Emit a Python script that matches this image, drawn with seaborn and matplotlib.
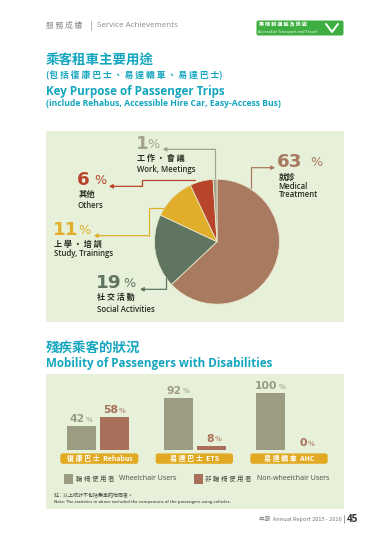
import matplotlib
matplotlib.use("Agg")
import matplotlib.pyplot as plt
from matplotlib.patches import Rectangle, FancyBboxPatch
import pandas as pd
import seaborn as sns

sns.set_theme(style="white")
CJK = ['Noto Sans CJK TC', 'DejaVu Sans']
LAT = ['Open Sans', 'Noto Sans CJK TC']
plt.rcParams['font.family'] = LAT

purposes = ["Medical", "Social", "Study", "Others", "Work"]
purpose_values = [63, 19, 11, 6, 1]
purpose_colors = ["#A87A60", "#5F7560", "#E0AE2A", "#B8452B", "#A3A38E"]

services = ["Rehabus", "ETS", "AHC"]
service_centres = [97.9, 194.7, 287.3]
wheelchair = [42, 92, 100]
non_wheelchair = [58, 8, 0]
service_labels = ["復 康 巴 士  Rehabus", "易 達 巴 士  ETS", "易 達 轎 車  AHC"]

TEAL = "#14A6BF"
PANEL = "#E7F1DA"
WC = "#9C9C82"
NWC = "#A8705A"
GOLD = "#E2AA22"
DARK = "#3A3A30"

fig = plt.figure(figsize=(3.8, 5.37), dpi=100, facecolor="white")
W, H = 380, 537

bg = fig.add_axes([0, 0, 1, 1], zorder=0)
bg.set_xlim(0, W); bg.set_ylim(H, 0); bg.axis("off")
bg.add_patch(Rectangle((45.5, 131), 298.5, 190.5, fc=PANEL, ec="none"))
bg.add_patch(Rectangle((45.5, 374), 298.5, 135, fc=PANEL, ec="none"))

# Pie
cx, cy, r = 217, 241.7, 62.5
pie_ax = fig.add_axes([(cx - r) / W, 1 - (cy + r) / H, 2 * r / W, 2 * r / H], zorder=1)
pie_ax.pie(purpose_values, colors=purpose_colors, startangle=90, counterclock=False,
           radius=1, wedgeprops=dict(edgecolor="#E7E6C8", linewidth=0.6))
pie_ax.set_xlim(-1, 1); pie_ax.set_ylim(-1, 1)

# Bars
x0, x1, ytop, ybase = 45.5, 344, 380, 450.3
bar_ax = fig.add_axes([x0 / W, 1 - ybase / H, (x1 - x0) / W, (ybase - ytop) / H], zorder=1)
df = pd.DataFrame({
    "centre": service_centres * 2,
    "share": wheelchair + non_wheelchair,
    "user": ["Wheelchair"] * 3 + ["Non-wheelchair"] * 3,
})
sns.barplot(data=df, x="centre", y="share", hue="user", native_scale=True,
            palette={"Wheelchair": WC, "Non-wheelchair": NWC},
            width=0.7127, gap=0.11, legend=False, ax=bar_ax, saturation=1, errorbar=None,
            linewidth=0, edgecolor="none")
bar_ax.set_xlim(x0, x1)
bar_ax.set_ylim(0, (ybase - ytop) / 57 * 100)
bar_ax.axis("off")
bar_ax.patch.set_alpha(0)

# Overlay
ov = fig.add_axes([0, 0, 1, 1], zorder=2)
ov.set_xlim(0, W); ov.set_ylim(H, 0); ov.axis("off"); ov.patch.set_alpha(0)


def T(x, y, s, size, color=DARK, weight="normal", ha="left", va="center", fam=None):
    ov.text(x, y, s, fontsize=size, color=color, fontweight=weight, ha=ha, va=va,
            family=fam or LAT)


def leader(zx, zy, color):
    pts = [(40 + a / 3, 125 + b / 3) for a, b in zip(zx, zy)]
    xs, ys = zip(*pts)
    ov.plot(xs[:-1], ys[:-1], color=color, lw=0.9, solid_joinstyle="miter")
    ov.annotate("", xy=pts[-1], xytext=pts[-2],
                arrowprops=dict(arrowstyle="-|>,head_length=0.18,head_width=0.1", color=color, lw=0.9,
                                shrinkA=0, shrinkB=0))


# Header
T(46, 25.5, "服 務 成 績", 5.6, "#8A8A8A", fam=CJK)
ov.plot([91, 91], [21, 30], color="#999999", lw=0.5)
T(97, 25.5, "Service Achievements", 5.8, "#8A8A8A")
ov.add_patch(FancyBboxPatch((256.5, 20.5), 87, 15, boxstyle="round,pad=0,rounding_size=2",
                            fc="#3DAE3F", ec="none"))
T(259, 25, "無 障 礙 運 輸 及 旅 遊", 3.6, "white", "bold", fam=CJK)
T(258.5, 32.2, "Accessible Transport and Travel", 2.9, "white")
ov.plot([326, 332, 338], [24, 32, 24], color="white", lw=1.4, solid_capstyle="round")

# Section 1 title
T(45.5, 61, "乘客租車主要用途", 9.7, TEAL, "bold", fam=CJK)
T(45.5, 75, "(包 括 復 康 巴 士 、 易 達 轎 車 、 易 達 巴 士)", 6.35, TEAL, "bold", fam=CJK)
T(45.5, 91, "Key Purpose of Passenger Trips", 8.4, TEAL, "bold")
T(45.5, 104, "(include Rehabus, Accessible Hire Car, Easy-Access Bus)", 6.2, TEAL, "bold")

# Leaders
leader([634, 634, 705], [190, 128, 128], purpose_colors[0])
leader([378, 378, 300], [460, 493, 493], purpose_colors[1])
leader([370, 326, 326, 162], [250, 250, 332, 332], purpose_colors[2])
leader([466, 307, 307, 207], [165, 165, 184, 184], purpose_colors[3])
leader([526, 526, 368], [160, 73, 73], purpose_colors[4])


def pct(xz, yz, num, col, pct_x):
    x = 40 + xz / 3
    y = 125 + yz / 3
    ov.text(x, y, f"{num}", fontsize=13.2, color=col, fontweight="bold", ha="left", va="center",
            family="DejaVu Sans")
    T(40 + pct_x / 3, y + 0.8, "%", 9.2, col, "normal", fam=["DejaVu Sans"])


def L(xz, yz, s, size=5.55, cjk=False):
    x = 40 + xz / 3
    y = 125 + yz / 3
    if cjk:
        T(x, y, s, size, "#2A2A20", "bold", fam=CJK)
    else:
        T(x, y, s, size, "#2A2A20", "semibold")


pct(712, 110, "63", purpose_colors[0], 810)
L(716, 156, "就診", 6, True)
L(716, 185, "Medical")
L(716, 209, "Treatment")

pct(288, 57, "1", purpose_colors[4], 322)
L(290, 100, "工 作 ・ 會 議", 5.8, True)
L(290, 134, "Work, Meetings")

pct(110, 165, "6", purpose_colors[3], 162)
L(115, 209, "其他", 6, True)
L(113, 243, "Others")

pct(38, 315, "11", purpose_colors[2], 115)
L(42, 358, "上 學 ・ 培 訓", 5.8, True)
L(42, 387, "Study, Trainings")

pct(168, 474, "19", purpose_colors[1], 250)
L(172, 518, "社 交 活 動", 5.8, True)
L(172, 552, "Social Activities")

# Section 2 title
T(45.5, 348, "殘疾乘客的狀況", 9.7, TEAL, "bold", fam=CJK)
T(45.5, 364, "Mobility of Passengers with Disabilities", 8.4, TEAL, "bold")

# Bar labels
bar_labels = [(wheelchair[i], service_centres[i] - 16.5, WC) for i in range(3)] + \
             [(non_wheelchair[i], service_centres[i] + 16.5, NWC) for i in range(3)]
for v, x, c in bar_labels:
    y = ybase - v * 0.57 - 7
    off = {1: 3, 2: 3.5, 3: 7}[len(str(v))]
    ov.text(x + off, y, f"{v}", fontsize=7.8, color=c, fontweight="bold",
            ha="right", va="center", family="DejaVu Sans")
    ov.text(x + off + 0.5, y + 0.6, "%", fontsize=5.2, color=c, ha="left", va="center", family="DejaVu Sans")

# Pills
for (a, b), s in zip([(61, 295), (347, 579), (631, 863)], service_labels):
    xa, xb = 40 + a / 3, 40 + b / 3
    ov.add_patch(FancyBboxPatch((xa, 453.4), xb - xa, 10.4, boxstyle="round,pad=0,rounding_size=2.5",
                                fc=GOLD, ec="none"))
    T((xa + xb) / 2, 458.6, s, 5.0, "white", "bold", ha="center", fam=CJK)

# Legend
ov.add_patch(Rectangle((63.5, 474), 9.5, 9.5, fc=WC, ec="none"))
T(75.7, 479, "輪 椅 使 用 者", 4.7, "#4A4A40", fam=CJK)
T(119, 479, "Wheelchair Users", 5.0, "#4A4A40")
ov.add_patch(Rectangle((193.5, 474), 9.5, 9.5, fc=NWC, ec="none"))
T(205, 479, "非 輪 椅 使 用 者", 4.7, "#4A4A40", fam=CJK)
T(257, 479, "Non-wheelchair Users", 5.0, "#4A4A40")

# Notes
T(54, 495.5, "註：以上統計不包括乘車的陪同者。", 3.6, "#4A4A40", fam=CJK)
T(54, 502.5, "Note: The statistics in above excluded the companions of the passengers using vehicles.", 2.95,
  "#4A4A40", "semibold")

# Footer
T(342, 519, "年報  Annual Report 2015 - 2016", 4.1, "#777777", ha="right", fam=CJK)
ov.plot([344, 344], [515, 523], color="#777777", lw=0.5)
T(347, 519, "45", 7.2, "#333333", "bold")

fig.savefig("out.png", dpi=100, facecolor="white")
